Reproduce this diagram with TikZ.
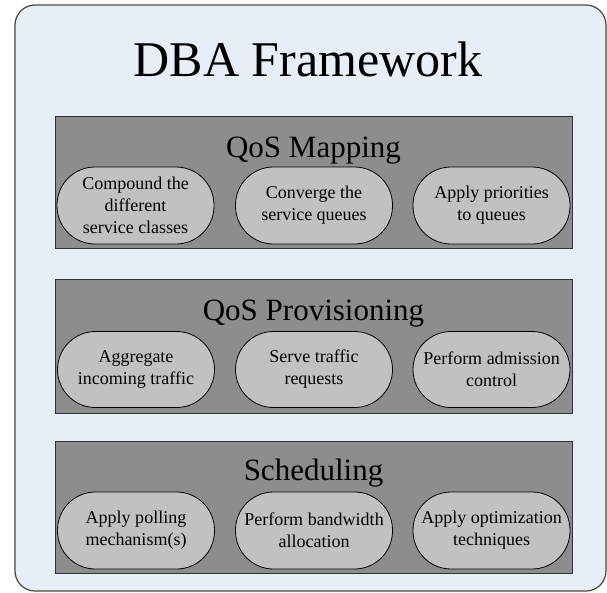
\documentclass[tikz,border=0pt]{standalone}
\usepackage{fontspec}
\setmainfont{Liberation Serif}
\newfontfamily\timesfam{Liberation Serif}
\definecolor{outerfill}{RGB}{232,238,248}
\definecolor{outerline}{RGB}{70,70,70}
\definecolor{panelfill}{RGB}{141,141,141}
\definecolor{panelline}{RGB}{50,50,50}
\definecolor{ovalfill}{RGB}{193,193,193}
\tikzset{
  outerbox/.style={draw=outerline, fill=outerfill, line width=1.2pt, rounded corners=20pt},
  panelbox/.style={draw=panelline, fill=panelfill, line width=1pt, minimum width=517pt, inner sep=0pt},
  paneltitle/.style={anchor=base, inner sep=0pt, font=\timesfam\fontsize{31}{36}\selectfont},
  oval/.style={draw=black, fill=ovalfill, line width=0.8pt, rounded corners=38pt,
    minimum width=157pt, minimum height=77pt, inner sep=0pt, align=center,
    font=\timesfam\fontsize{18}{22}\selectfont},
  maintitle/.style={anchor=base, inner sep=0pt, font=\timesfam\fontsize{50}{60}\selectfont}
}
\begin{document}
\begin{tikzpicture}[x=1pt, y=-1pt]
\useasboundingbox (0,0) rectangle (607,592);
\draw[outerbox] (15,5) rectangle (606,591);
\node[maintitle] (title) at (308,76) {DBA Framework};

% QoS Mapping
\node[panelbox, minimum height=132pt] (p1) at (313.5,182) {};
\node[paneltitle] (t1) at (313.5,157) {QoS Mapping};
\node[oval] (m1) at (135.5,205.5) {Compound the\\different\\service classes};
\node[oval] (m2) at (314,205.5) {Converge the\\service queues};
\node[oval] (m3) at (491.5,205.5) {Apply priorities\\to queues};

% QoS Provisioning
\node[panelbox, minimum height=134pt] (p2) at (313.5,346) {};
\node[paneltitle] (t2) at (313.5,320) {QoS Provisioning};
\node[oval, minimum height=76pt] (q1) at (136,369.5) {Aggregate\\incoming traffic};
\node[oval, minimum height=76pt] (q2) at (314,369.5) {Serve traffic\\requests};
\node[oval, minimum height=76pt] (q3) at (491.5,369.5) {Perform admission\\control};

% Scheduling
\node[panelbox, minimum height=132pt] (p3) at (313.5,507) {};
\node[paneltitle] (t3) at (313.5,480) {Scheduling};
\node[oval] (s1) at (136,530.5) {Apply polling\\mechanism(s)};
\node[oval] (s2) at (314,530.5) {Perform bandwidth\\allocation};
\node[oval] (s3) at (491.5,530.5) {Apply optimization\\techniques};
\end{tikzpicture}
\end{document}
